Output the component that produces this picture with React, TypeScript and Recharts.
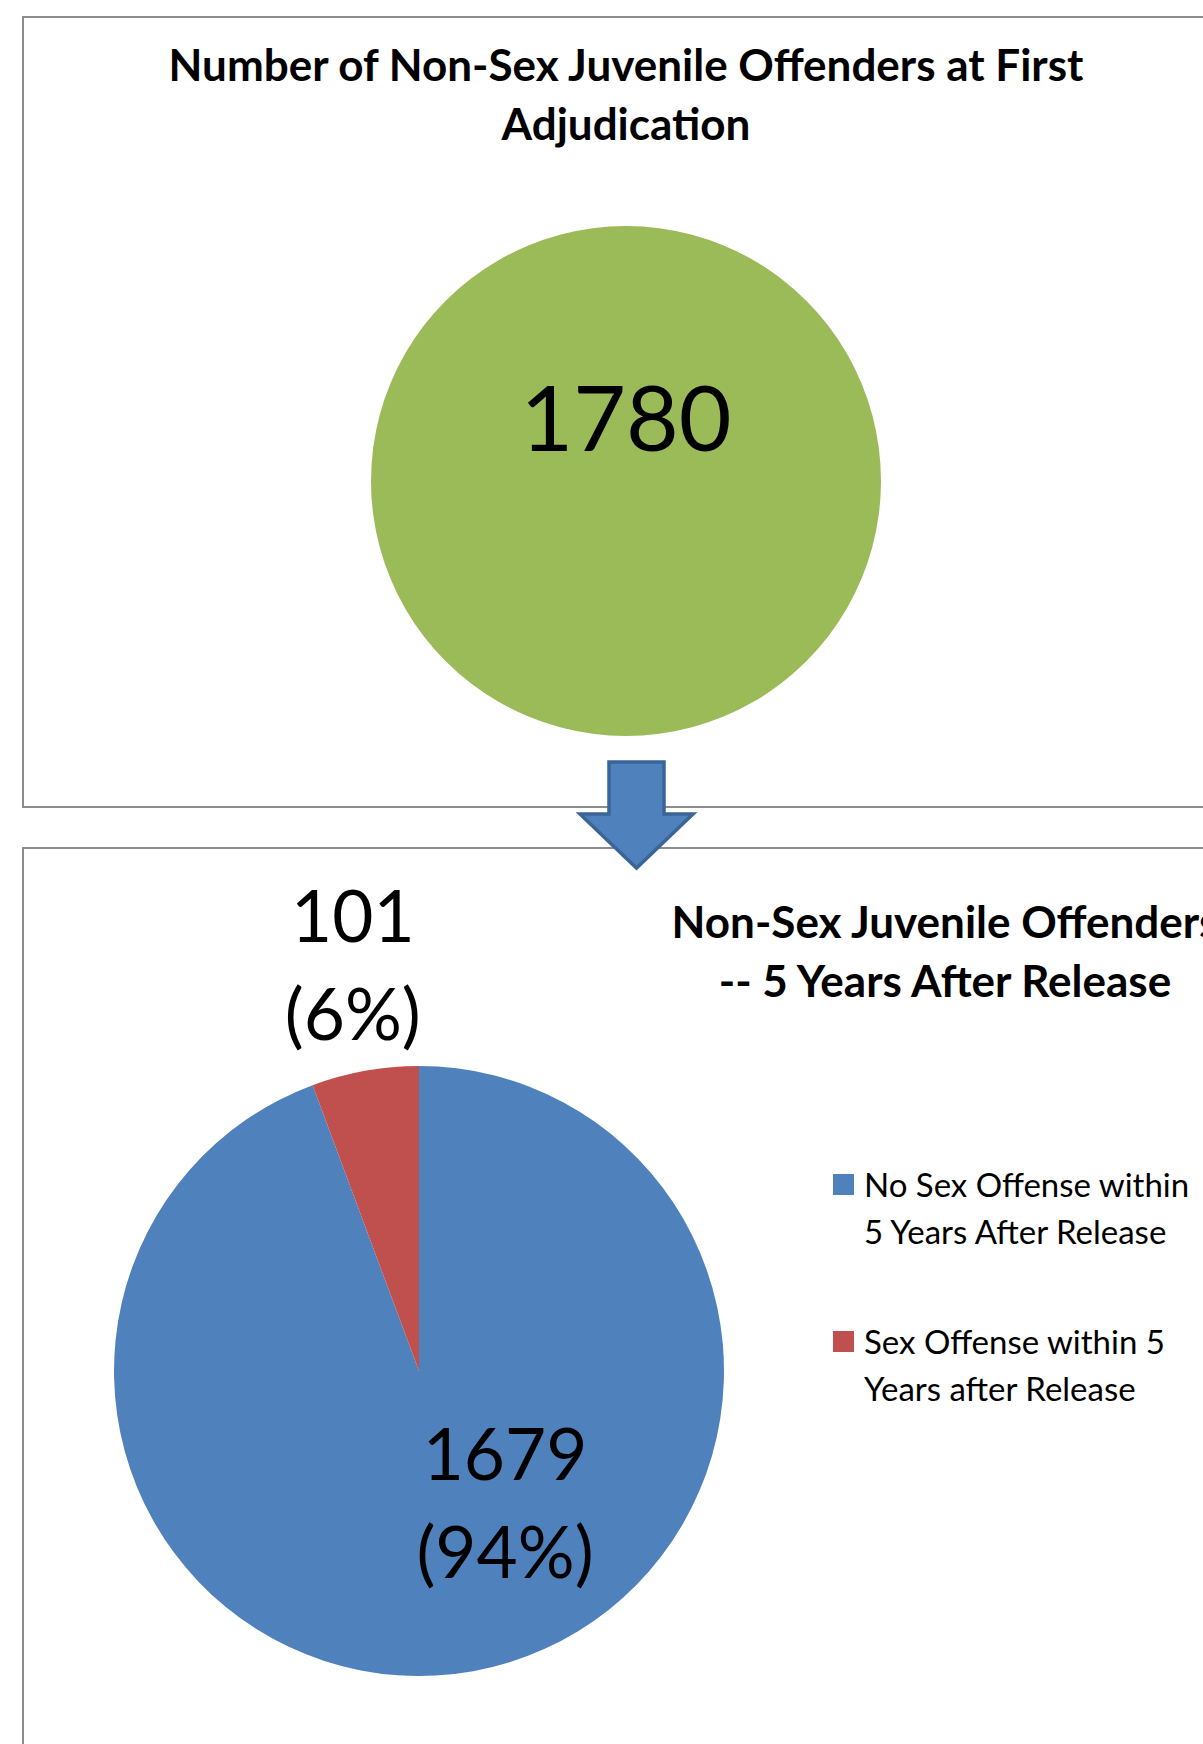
import { PieChart, Pie, Cell, Legend, Customized } from 'recharts';

const topTitle = ['Number of Non-Sex Juvenile Offenders at First', 'Adjudication'];
const totalData = [{ name: 'Non-Sex Juvenile Offenders', value: 1780 }];

const bottomTitle = ['Non-Sex Juvenile Offenders', '-- 5 Years After Release'];
const outcomeNames = ['No Sex Offense within 5 Years After Release', 'Sex Offense within 5 Years after Release'];
const outcomeLines = [
  ['No Sex Offense within', '5 Years After Release'],
  ['Sex Offense within 5', 'Years after Release'],
];
const outcomeValues = [1679, 101];
const outcomeColors = ['#4F81BD', '#C0504D'];

const outcomeData = outcomeNames.map((name, i) => ({ name, value: outcomeValues[i] }));

const FONT = 'Lato, "Open Sans", sans-serif';
const BORDER = '2px solid #8c8c8c';
const NO_MARGIN = { top: 0, right: 0, bottom: 0, left: 0 };

// eslint-disable-next-line @typescript-eslint/no-explicit-any
const TotalLabel = (props: any) => (
  <text x={props.cx} y={props.cy - 30} textAnchor="middle" fontFamily={FONT} fontSize={91} fill="#000">
    {props.value}
  </text>
);

// eslint-disable-next-line @typescript-eslint/no-explicit-any
const OutcomeLabel = (props: any) => {
  const { cx, cy, midAngle, outerRadius, value, percent, index } = props;
  const pct = `(${Math.round(percent * 100)}%)`;
  let x: number;
  let y: number;
  if (index === 1) {
    // outside end, above the small slice
    const r = outerRadius * 1.33;
    const rad = (-midAngle * Math.PI) / 180;
    x = cx + r * Math.cos(rad) * 0.92;
    y = cy + r * Math.sin(rad) - 30;
  } else {
    // inside, best fit
    x = cx + 86;
    y = cy + 109;
  }
  return (
    <g>
      <text x={x} y={y} textAnchor="middle" fontFamily={FONT} fontSize={71} fill="#000">{value}</text>
      <text x={x} y={y + 98} textAnchor="middle" fontFamily={FONT} fontSize={71} fill="#000">{pct}</text>
    </g>
  );
};

const Title = ({ lines, x, y }: { lines: string[]; x: number; y: number }) => (
  <g>
    {lines.map((l, i) => (
      <text key={i} x={x} y={y + i * 59} textAnchor="middle" fontFamily={FONT} fontWeight={700} fontSize={44} fill="#000">
        {l}
      </text>
    ))}
  </g>
);

const OutcomeLegend = () => (
  <div style={{ fontFamily: FONT, fontSize: 33, lineHeight: '47px', color: '#000' }}>
    {outcomeLines.map((lines, i) => (
      <div key={i} style={{ position: 'relative', paddingLeft: 31, marginBottom: 63 }}>
        <span style={{ position: 'absolute', left: 0, top: 13, width: 21, height: 21, background: outcomeColors[i] }} />
        {lines.map((l, j) => (
          <div key={j} style={{ whiteSpace: 'nowrap' }}>{l}</div>
        ))}
      </div>
    ))}
  </div>
);

export default function App() {
  return (
    <div style={{ position: 'absolute', left: 0, top: 0, width: 1203, height: 1744, overflow: 'hidden', background: '#fff' }}>
      <div style={{ position: 'absolute', left: 22, top: 16, width: 1300, height: 788, border: BORDER }} />
      <div style={{ position: 'absolute', left: 22, top: 847, width: 1300, height: 1000, border: BORDER }} />

      <div style={{ position: 'absolute', left: 0, top: 847 }}>
        <PieChart width={1203} height={897} margin={NO_MARGIN}>
          <Customized component={() => <Title lines={bottomTitle} x={945} y={91} />} />
          <Pie
            data={outcomeData}
            dataKey="value"
            nameKey="name"
            cx={419}
            cy={524}
            outerRadius={305}
            startAngle={90}
            endAngle={-270}
            stroke="none"
            label={OutcomeLabel}
            labelLine={false}
            isAnimationActive={false}
          >
            {outcomeData.map((d, i) => (
              <Cell key={d.name} fill={outcomeColors[i]} />
            ))}
          </Pie>
          <Legend
            layout="vertical"
            content={<OutcomeLegend />}
            wrapperStyle={{ position: 'absolute', left: 833, top: 314, width: 400 }}
          />
        </PieChart>
      </div>

      <div style={{ position: 'absolute', left: 0, top: 0 }}>
        <PieChart width={1203} height={880} margin={NO_MARGIN}>
          <Customized component={() => <Title lines={topTitle} x={626} y={81} />} />
          <Pie
            data={totalData}
            dataKey="value"
            cx={626}
            cy={481}
            outerRadius={255}
            startAngle={90}
            endAngle={-270}
            fill="#9BBB59"
            stroke="none"
            label={TotalLabel}
            labelLine={false}
            isAnimationActive={false}
          />
          <Customized
            component={() => (
              <path
                d="M609,762 L664,762 L664,814 L693,814 L636.5,868 L580,814 L609,814 Z"
                fill="#4F81BD"
                stroke="#3A6597"
                strokeWidth={3.5}
                strokeLinejoin="miter"
              />
            )}
          />
        </PieChart>
      </div>
    </div>
  );
}
